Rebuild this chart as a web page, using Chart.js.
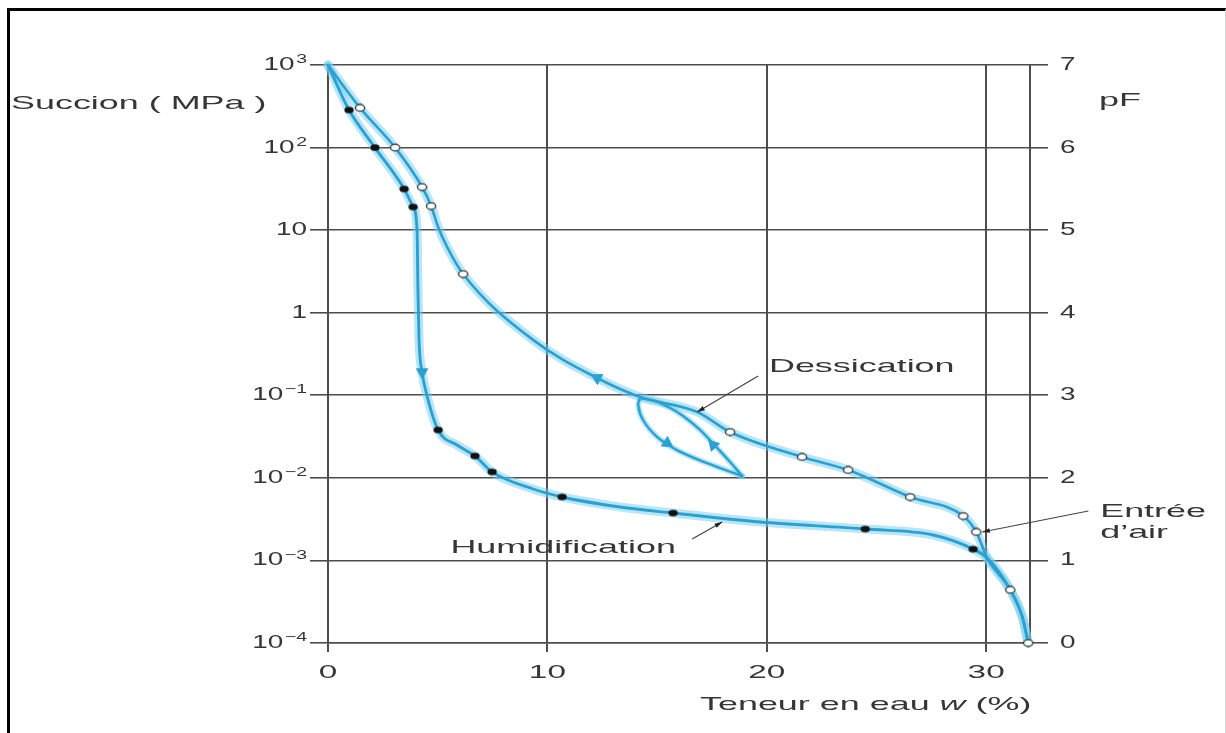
<!DOCTYPE html>
<html lang="fr">
<head>
<meta charset="utf-8">
<title>Succion et teneur en eau</title>
<script src="https://cdn.jsdelivr.net/npm/chart.js@4.4.1/dist/chart.umd.min.js"></script>
<style>
  html, body { margin: 0; padding: 0; background: #fff; }
  body { width: 1226px; height: 733px; overflow: hidden; position: relative; }
  canvas { position: absolute; left: 0; top: 0; }
  #frame {
    position: absolute; left: 7px; top: 8px; width: 1215px; height: 760px;
    border-top: 3px solid #000; border-left: 3px solid #000; border-right: 1px solid #d6d6d6;
    pointer-events: none;
  }
</style>
</head>
<body>
<canvas id="c" width="1226" height="733"></canvas>
<div id="frame"></div>
<script>
// ---- Data: water content w (%) and suction (MPa) ----
// Drying path (dessication)
const dryingW = [0, 1.46, 3.06, 4.29, 4.70, 5.02, 5.43, 6.16, 9.35, 12.27, 14.23, 16.83, 18.33, 21.61, 23.71, 26.54, 28.96, 29.55, 30.05, 31.10, 31.65, 31.92];
const dryingS = [1000, 302, 100, 33.3, 19.6, 10.9, 6.25, 2.94, 0.468, 0.162, 0.0953, 0.0628, 0.0359, 0.0179, 0.01245, 0.00586, 0.00345, 0.00221, 0.00107, 0.00044, 0.000207, 0.0001];

// Wetting path (humidification)
const wettingW = [0, 0.96, 2.14, 3.47, 3.88, 4.06, 4.10, 4.15, 4.29, 4.51, 5.02, 5.88, 6.70, 7.48, 9.35, 10.67, 13.31, 15.73, 19.70, 24.49, 27.59, 29.41, 30.05, 31.10, 31.65, 31.92];
const wettingS = [1000, 285, 100, 31.5, 19.1, 10, 1.88, 0.468, 0.191, 0.1, 0.038, 0.025, 0.0184, 0.0118, 0.00733, 0.00587, 0.00444, 0.00375, 0.00292, 0.0024, 0.00203, 0.00137, 0.00107, 0.00044, 0.000207, 0.0001];

// Intermediate cycle leaving the drying path
const scanWetW = [14.23, 14.14, 14.36, 15.0, 15.91, 17.28, 18.88];
const scanWetS = [0.0927, 0.0763, 0.0502, 0.0313, 0.0217, 0.0151, 0.01052];
const scanDryW = [18.88, 18.33, 17.74, 16.96, 16.19, 15.6, 14.91, 14.23];
const scanDryS = [0.01052, 0.01556, 0.023, 0.038, 0.0561, 0.0702, 0.0852, 0.0927];

// Measured points
const dryPointsW = [1.46, 3.06, 4.29, 4.70, 6.16, 18.33, 21.61, 23.71, 26.54, 28.96, 29.55, 31.10, 31.92];
const dryPointsS = [302, 100, 33.3, 19.6, 2.94, 0.0359, 0.0179, 0.01245, 0.00586, 0.00345, 0.00221, 0.00044, 0.0001];
const wetPointsW = [0.96, 2.14, 3.47, 3.88, 5.02, 6.70, 7.48, 10.67, 15.73, 24.49, 29.41];
const wetPointsS = [285, 100, 31.5, 19.1, 0.038, 0.0184, 0.0118, 0.00587, 0.00375, 0.0024, 0.00137];

// Direction arrows along the paths
const arrowW = [4.29, 12.27, 15.46, 17.56];
const arrowS = [0.191, 0.162, 0.0264, 0.025];

// Axis ticks
const xTicks = [0, 10, 20, 30];
const suctionTicks = [1e-4, 1e-3, 1e-2, 1e-1, 1, 10, 100, 1000];
const suctionLabels = ['10\u207B\u2074', '10\u207B\u00B3', '10\u207B\u00B2', '10\u207B\u00B9', '1', '10', '10\u00B2', '10\u00B3'];
const pFTicks = [0, 1, 2, 3, 4, 5, 6, 7];

// ---- Styling ----
const LINE = '#2aa1d2';
const HALO = 'rgba(115, 205, 240, 0.5)';
const GRID = '#4d4d4d';
const TEXT = '#363636';
const FONT = '"Liberation Sans", Arial, Helvetica, sans-serif';
const arrowRotation = [180, 298, 123, 317];

const pts = (ws, ss) => ws.map((w, i) => ({ x: w, y: ss[i] }));

function ellipseMarker(fill, stroke) {
  const c = document.createElement('canvas');
  c.width = 12; c.height = 9;
  const g = c.getContext('2d');
  g.beginPath();
  g.ellipse(6, 4.5, 4.6, 3.3, 0, 0, Math.PI * 2);
  g.fillStyle = fill; g.fill();
  if (stroke) { g.lineWidth = 1.3; g.strokeStyle = stroke; g.stroke(); }
  return c;
}
const openMarker = ellipseMarker('#ffffff', '#333333');
const fullMarker = ellipseMarker('#111111', null);

// The lettering of this figure is wide: text is drawn horizontally stretched,
// and powers of ten get a raised exponent in a smaller size.
const canvas = document.getElementById('c');
const ctx = canvas.getContext('2d');
let stretchOverride = null;
const baseFillText = ctx.fillText;
const SUP = { '\u207B': '\u2212', '\u00B9': '1', '\u00B2': '2', '\u00B3': '3', '\u2074': '4' };
ctx.fillText = function (text, x, y) {
  const sx = stretchOverride !== null ? stretchOverride : (this.textAlign === 'center' ? 1.85 : 1.55);
  const str = String(text);
  const m = str.match(/^(\d+)([\u207B\u00B9\u00B2\u00B3\u2074]+)$/);
  this.save();
  this.translate(x, y);
  this.scale(sx, 1);
  if (!m) {
    baseFillText.call(this, str, 0, 0);
  } else {
    const base = m[1];
    const exp = m[2].split('').map(ch => SUP[ch]).join('');
    const font = this.font;
    const size = parseFloat(font.match(/([\d.]+)px/)[1]);
    const bw = this.measureText(base).width;
    const supFont = font.replace(/[\d.]+px/, (size * 0.7).toFixed(1) + 'px');
    this.font = supFont;
    const ew = this.measureText(exp).width + 1;
    const total = bw + ew;
    const align = this.textAlign;
    let start = 0;
    if (align === 'right' || align === 'end') start = -total;
    else if (align === 'center') start = -total / 2;
    this.textAlign = 'left';
    this.font = font;
    baseFillText.call(this, base, start, 0);
    this.font = supFont;
    baseFillText.call(this, exp, start + bw + 1, -size * 0.3);
    this.font = font;
    this.textAlign = align;
  }
  this.restore();
};

const annotationPlugin = {
  id: 'figureText',
  afterDraw(chart) {
    const c = chart.ctx;
    const xs = chart.scales.x, ys = chart.scales.y;
    const px = w => xs.getPixelForValue(w);
    const py = s => ys.getPixelForValue(s);
    const SX = 1.89;
    c.save();
    stretchOverride = SX;
    c.fillStyle = TEXT;
    c.textBaseline = 'middle';
    c.textAlign = 'left';
    c.font = '19px ' + FONT;

    // axis titles
    c.fillText('Succion ( MPa )', 11, 104);
    c.fillText('pF', 1099, 101);

    let x0 = 700;
    const y0 = 705;
    const parts = [['Teneur en eau ', 'normal'], ['w', 'italic'], [' (%)', 'normal']];
    parts.forEach(([t, st]) => {
      c.font = (st === 'italic' ? 'italic ' : '') + '19px ' + FONT;
      c.fillText(t, x0, y0);
      x0 += c.measureText(t).width * SX;
    });
    c.font = '19px ' + FONT;

    // curve labels with leader lines
    const leader = (w1, s1, w2, s2) => {
      const ax = px(w1), ay = py(s1), bx = px(w2), by = py(s2);
      c.strokeStyle = '#444';
      c.lineWidth = 1.2;
      c.beginPath(); c.moveTo(ax, ay); c.lineTo(bx, by); c.stroke();
      const ang = Math.atan2(by - ay, bx - ax);
      c.beginPath();
      c.moveTo(bx, by);
      c.lineTo(bx - 8 * Math.cos(ang - 0.3), by - 8 * Math.sin(ang - 0.3));
      c.lineTo(bx - 8 * Math.cos(ang + 0.3), by - 8 * Math.sin(ang + 0.3));
      c.closePath();
      c.fillStyle = '#222'; c.fill();
      c.fillStyle = TEXT;
    };

    c.fillText('Dessication', px(20.1), py(0.22));
    leader(19.61, 0.171, 16.83, 0.0628);

    c.textAlign = 'center';
    c.fillText('Humidification', px(10.72), py(0.00141));
    leader(16.6, 0.00182, 17.97, 0.00292);

    c.textAlign = 'left';
    c.fillText('Entr\u00e9e', px(35.2), py(0.00386));
    c.fillText('d\u2019air', px(35.2), py(0.00215));
    leader(34.66, 0.00397, 29.82, 0.00221);

    stretchOverride = null;
    c.restore();
  }
};

const curve = (data, color, width, extra) => Object.assign({
  data, showLine: true, borderColor: color, borderWidth: width,
  pointRadius: 0, fill: false, clip: false, borderCapStyle: 'round', borderJoinStyle: 'round'
}, extra);

Chart.defaults.font.family = FONT;

new Chart(ctx, {
  type: 'scatter',
  data: {
    datasets: [
      // halos
      curve(pts(dryingW, dryingS), HALO, 9, { cubicInterpolationMode: 'monotone', order: 5 }),
      curve(pts(wettingW, wettingS), HALO, 9, { cubicInterpolationMode: 'monotone', order: 5 }),
      curve(pts(scanWetW, scanWetS), HALO, 6, { tension: 0.4, order: 5 }),
      curve(pts(scanDryW, scanDryS), HALO, 6, { tension: 0.4, order: 5 }),
      // paths
      curve(pts(dryingW, dryingS), LINE, 2.7, { label: 'Dessication', cubicInterpolationMode: 'monotone', order: 3 }),
      curve(pts(wettingW, wettingS), LINE, 2.9, { label: 'Humidification', cubicInterpolationMode: 'monotone', order: 3 }),
      curve(pts(scanWetW, scanWetS), LINE, 2.4, { tension: 0.4, order: 3 }),
      curve(pts(scanDryW, scanDryS), LINE, 2.4, { tension: 0.4, order: 3 }),
      // direction arrows
      {
        data: pts(arrowW, arrowS), showLine: false, pointStyle: 'triangle',
        rotation: arrowRotation, pointRadius: 6.5, backgroundColor: LINE, borderColor: LINE,
        borderWidth: 1, clip: false, order: 2
      },
      // measured points
      {
        data: pts(dryPointsW, dryPointsS), showLine: false, pointStyle: openMarker,
        pointRadius: 5, clip: false, order: 1
      },
      {
        data: pts(wetPointsW, wetPointsS), showLine: false, pointStyle: fullMarker,
        pointRadius: 5, clip: false, order: 1
      }
    ]
  },
  options: {
    responsive: false,
    devicePixelRatio: 1,
    animation: false,
    events: [],
    layout: { padding: { top: 65, left: 0, right: 0, bottom: 0 } },
    plugins: { legend: { display: false }, tooltip: { enabled: false }, title: { display: false } },
    scales: {
      x: {
        type: 'linear', min: 0, max: 32,
        afterBuildTicks: s => { s.ticks = xTicks.map(v => ({ value: v })); },
        afterFit: s => { s.height = 90; },
        grid: { color: GRID, lineWidth: 2, tickLength: 9 },
        border: { color: GRID, width: 1.6 },
        ticks: { color: TEXT, font: { size: 18 }, padding: 10, maxRotation: 0, autoSkip: false }
      },
      y: {
        type: 'logarithmic', position: 'left', min: 1e-4, max: 1e3,
        afterBuildTicks: s => { s.ticks = suctionTicks.map(v => ({ value: v })); },
        afterFit: s => { s.width = 328; },
        grid: { color: GRID, lineWidth: 1.6, tickLength: 18 },
        border: { color: GRID, width: 2 },
        ticks: { color: TEXT, font: { size: 18 }, padding: 3, autoSkip: false,
                 callback: (v, i) => suctionLabels[i] }
      },
      y2: {
        type: 'linear', position: 'right', min: 0, max: 7,
        afterBuildTicks: s => { s.ticks = pFTicks.map(v => ({ value: v })); },
        afterFit: s => { s.width = 196; },
        grid: { drawOnChartArea: false, color: GRID, lineWidth: 1.6, tickLength: 18 },
        border: { color: GRID, width: 2 },
        ticks: { color: TEXT, font: { size: 18 }, padding: 12, autoSkip: false }
      }
    }
  },
  plugins: [annotationPlugin]
});
</script>
</body>
</html>
